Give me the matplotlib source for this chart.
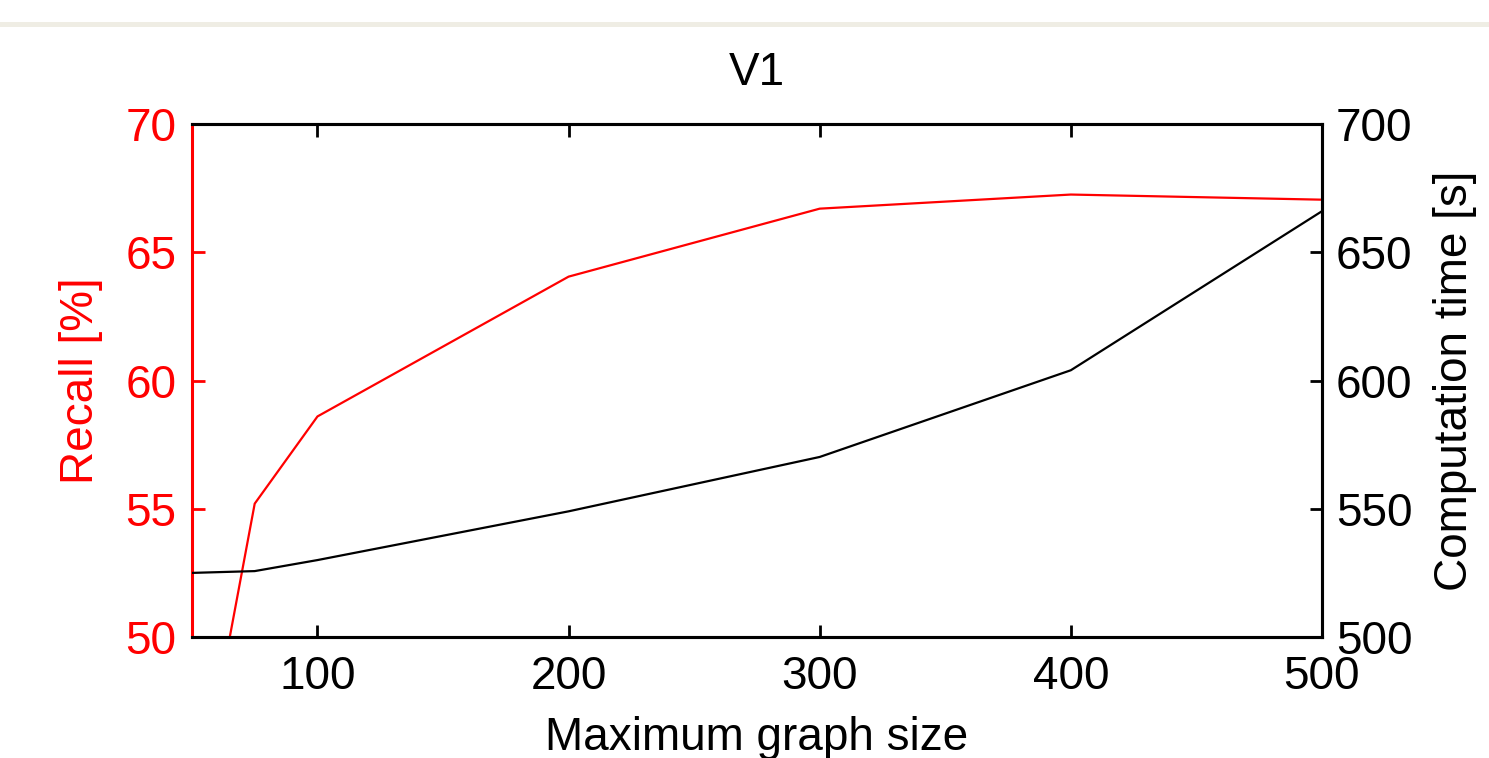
import matplotlib.pyplot as plt
from matplotlib.lines import Line2D

plt.rcParams['font.family'] = ['Liberation Sans', 'DejaVu Sans']

graph_size = [50, 75, 100, 200, 300, 400, 500]
recall = [42.1, 55.2, 58.6, 64.05, 66.7, 67.25, 67.05]
comp_time = [525, 525.7, 530, 549, 570.2, 604, 666]

fig = plt.figure(figsize=(14.89, 7.58), dpi=100)
ax = fig.add_axes([0.1289, 0.1596, 0.7589, 0.6768])
ax2 = ax.twinx()

# grey band across the top of the page
fig.add_artist(Line2D([0, 1], [1 - 23.5 / 758] * 2, color='#efede4', lw=3.6))

ax.plot(graph_size, recall, color='red', lw=1.6, zorder=3)
ax2.plot(graph_size, comp_time, color='black', lw=1.6)

ax.set_xlim(50, 500)
ax.set_ylim(50, 70)
ax2.set_ylim(500, 700)
ax.set_xticks([100, 200, 300, 400, 500])
ax.set_yticks([50, 55, 60, 65, 70])
ax2.set_yticks([500, 550, 600, 650, 700])

fs = 33
ax.tick_params(axis='x', direction='in', length=9, width=2, labelsize=fs,
               pad=13, top=True)
ax.tick_params(axis='y', direction='in', length=9, width=2, labelsize=fs,
               pad=11, colors='red')
ax2.tick_params(axis='y', direction='in', length=9, width=2, labelsize=fs,
                pad=10, colors='black')

for a in (ax, ax2):
    for s in a.spines.values():
        s.set_linewidth(2.2)
ax2.spines['left'].set_visible(False)
ax.spines['left'].set_color('red')
ax.spines['left'].set_zorder(5)

ax.set_title('V1', fontsize=fs, pad=28)
ax.set_xlabel('Maximum graph size', fontsize=fs, labelpad=12)
ax.set_ylabel('Recall [%]', fontsize=fs, color='red', labelpad=16)
ax2.set_ylabel('Computation time [s]', fontsize=fs, labelpad=15)

fig.savefig('out.png', dpi=100)
